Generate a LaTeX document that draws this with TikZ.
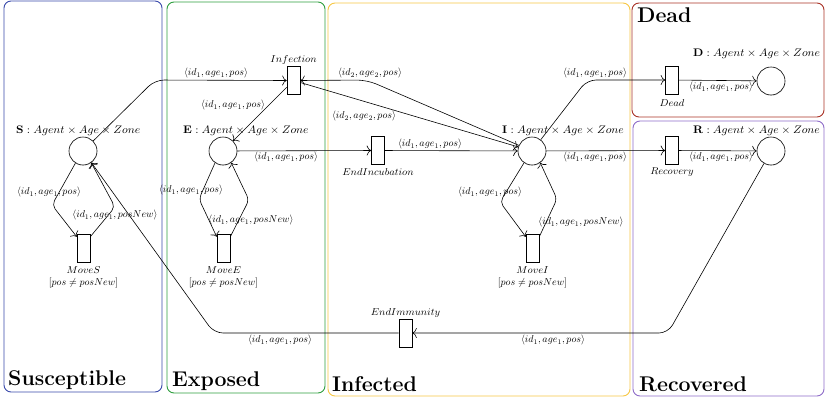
\documentclass[tikz,border=0pt]{standalone}
\usepackage{amsmath,amssymb,graphicx}
\usetikzlibrary{arrows.meta,shadows}
\definecolor{cS}{HTML}{3949AB}
\definecolor{cE}{HTML}{2E9E3E}
\definecolor{cI}{HTML}{F6C744}
\definecolor{cD}{HTML}{A93226}
\definecolor{cR}{HTML}{8E6CC8}
\newcommand{\plab}[1]{\scalebox{1.065}[1]{$\mathbf{#1}:Agent\times Age\times Zone$}}
\newcommand{\tlab}[1]{\scalebox{1.05}[1]{$#1$}}
\begin{document}
\begin{tikzpicture}[x=1pt,y=-1pt,
  pnplace/.style={circle,draw,line width=0.6pt,minimum size=28pt,inner sep=0pt,fill=white,
    drop shadow={opacity=0.2,shadow xshift=0.4pt,shadow yshift=-0.8pt}},
  pntrans/.style={rectangle,draw,line width=0.6pt,minimum width=13pt,minimum height=28pt,inner sep=0pt,fill=white,
    drop shadow={opacity=0.2,shadow xshift=0.4pt,shadow yshift=-0.8pt}},
  pnarc/.style={line width=0.6pt,-{To[length=4.5pt,width=10pt]}},
  lbl/.style={font=\fontsize{10}{12}\selectfont,inner sep=0pt},
  plbl/.style={font=\fontsize{10.5}{12}\selectfont,inner sep=0pt,anchor=base west},
  pnframe/.style={rounded corners=7pt,line width=0.9pt},
  ftitle/.style={font=\fontsize{21.3}{24}\selectfont\bfseries,anchor=base west,inner sep=0pt},
]
\useasboundingbox (0,0) rectangle (825,399);
% frames
\draw[pnframe,cS] (4,1) rectangle (162,392);
\draw[pnframe,cE] (167,2) rectangle (325,393);
\draw[pnframe,cI] (328,3) rectangle (630,396);
\draw[pnframe,cD] (632,3) rectangle (824,117);
\draw[pnframe,cR] (633,121) rectangle (824,396);
\node[ftitle] (tS) at (8,385) {Susceptible};
\node[ftitle] (tE) at (172,386) {Exposed};
\node[ftitle] (tI) at (332,391) {Infected};
\node[ftitle] (tR) at (639,391) {Recovered};
\node[ftitle] (tD) at (637,22) {Dead};
% places
\node[pnplace] (S) at (83,151) {};
\node[pnplace] (E) at (223,151) {};
\node[pnplace] (I) at (532,151) {};
\node[pnplace] (D) at (771,81) {};
\node[pnplace] (R) at (771,151) {};
\node[plbl] (lS) at (16,133) {\plab{S}};
\node[plbl] (lE) at (183,133) {\plab{E}};
\node[plbl] (lI) at (502,133) {\plab{I}};
\node[plbl] (lD) at (693,56) {\plab{D}};
\node[plbl] (lR) at (693,133) {\plab{R}};
% transitions
\node[pntrans] (Inf) at (293.5,80.5) {};
\node[pntrans] (EInc) at (378,150.5) {};
\node[pntrans] (DT) at (672,80) {};
\node[pntrans] (Rec) at (672,150.5) {};
\node[pntrans] (MS) at (83.5,248.5) {};
\node[pntrans] (ME) at (223.5,248.5) {};
\node[pntrans] (MI) at (532.5,248.5) {};
\node[pntrans] (EImm) at (405.5,333) {};
\node[lbl] (nInf) at (293.5,60) {\tlab{Infection}};
\node[lbl] (nEInc) at (378,172) {\tlab{EndIncubation}};
\node[lbl] (nDT) at (672,103) {\tlab{Dead}};
\node[lbl] (nRec) at (672,172) {\tlab{Recovery}};
\node[lbl] (nMS) at (83.5,270) {\tlab{MoveS}};
\node[lbl] (gMS) at (83.5,283) {$[pos\neq posNew]$};
\node[lbl] (nME) at (223.5,270) {\tlab{MoveE}};
\node[lbl] (gME) at (223.5,283) {$[pos\neq posNew]$};
\node[lbl] (nMI) at (532.5,270) {\tlab{MoveI}};
\node[lbl] (gMI) at (532.5,283) {$[pos\neq posNew]$};
\node[lbl] (nEImm) at (405.5,313) {\tlab{EndImmunity}};
% arcs
\draw[pnarc,rounded corners=9pt] (S) -- (155,80) -- (Inf.west);
\draw[pnarc] (Inf) -- (E);
\draw[pnarc] (Inf) -- (I);
\draw[pnarc,rounded corners=10pt] (I) -- (367,80) -- (Inf.east);
\draw[pnarc] (E) -- (EInc);
\draw[pnarc] (EInc) -- (I);
\draw[pnarc,rounded corners=9pt] (I) -- (587,80) -- (DT.west);
\draw[pnarc] (DT) -- (D);
\draw[pnarc] (I) -- (Rec);
\draw[pnarc] (Rec) -- (R);
\draw[pnarc,rounded corners=9pt] (R) -- (668,333) -- (EImm.east);
\draw[pnarc,rounded corners=9pt] (EImm.west) -- (214,333) -- (S);
% loops
\draw[pnarc,rounded corners=5pt] (S.238) -- (52,205) -- (MS.120);
\draw[pnarc,rounded corners=5pt] (MS.60) -- (115,207) -- (S.305);
\draw[pnarc,rounded corners=5pt] (E.236) -- (199,199) -- (ME.120);
\draw[pnarc,rounded corners=5pt] (ME.60) -- (249,200) -- (E.305);
\draw[pnarc,rounded corners=5pt] (I.236) -- (500,202) -- (MI.120);
\draw[pnarc,rounded corners=5pt] (MI.60) -- (557,199) -- (I.305);
% arc labels
\node[lbl] (a1) at (216,73) {$\langle id_1, age_1, pos\rangle$};
\node[lbl] (a2) at (233,105) {$\langle id_1, age_1, pos\rangle$};
\node[lbl] (a3) at (370,73) {$\langle id_2, age_2, pos\rangle$};
\node[lbl] (a4) at (364,116) {$\langle id_2, age_2, pos\rangle$};
\node[lbl] (a5) at (286,157) {$\langle id_1, age_1, pos\rangle$};
\node[lbl] (a6) at (430,144) {$\langle id_1, age_1, pos\rangle$};
\node[lbl] (a7) at (595,73) {$\langle id_1, age_1, pos\rangle$};
\node[lbl] (a8) at (721,87) {$\langle id_1, age_1, pos\rangle$};
\node[lbl] (a9) at (595,157) {$\langle id_1, age_1, pos\rangle$};
\node[lbl] (a10) at (721,157) {$\langle id_1, age_1, pos\rangle$};
\node[lbl] (a11) at (553,340) {$\langle id_1, age_1, pos\rangle$};
\node[lbl] (a12) at (280,340) {$\langle id_1, age_1, pos\rangle$};
\node[lbl] (a13) at (49,192) {$\langle id_1, age_1, pos\rangle$};
\node[lbl] (a14) at (115,215) {$\langle id_1, age_1, posNew\rangle$};
\node[lbl] (a15) at (191,190) {$\langle id_1, age_1, pos\rangle$};
\node[lbl] (a16) at (251,220) {$\langle id_1, age_1, posNew\rangle$};
\node[lbl] (a17) at (490,192) {$\langle id_1, age_1, pos\rangle$};
\node[lbl] (a18) at (581,222) {$\langle id_1, age_1, posNew\rangle$};
\end{tikzpicture}
\end{document}
